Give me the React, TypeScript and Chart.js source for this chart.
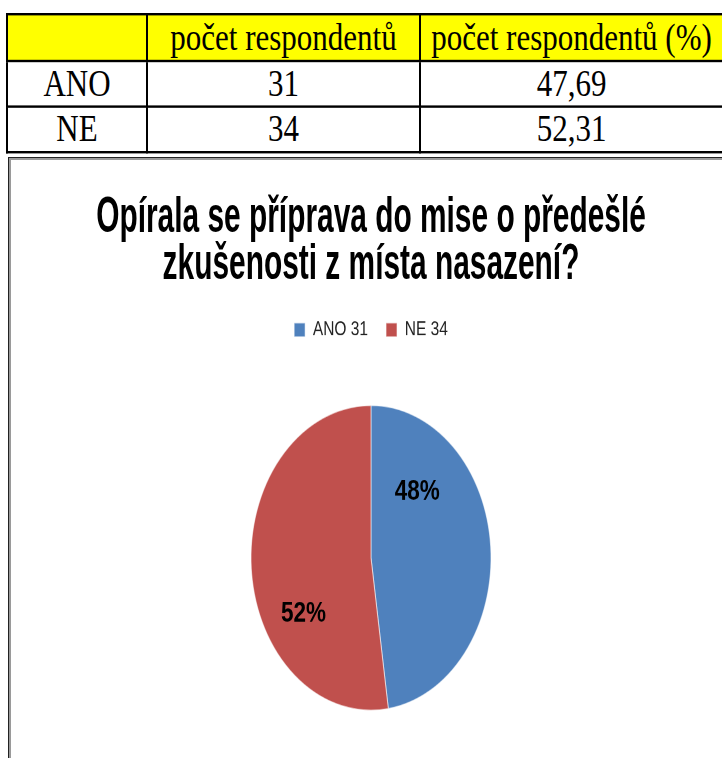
import React, { useEffect, useRef } from "react";
import { Chart, registerables } from "chart.js";

Chart.register(...registerables);

// ---- data ----
const categories = ["ANO", "NE"];
const counts = [31, 34];
const percentText = ["47,69", "52,31"];
const tableHeaders = ["", "počet respondentů", "počet respondentů (%)"];
const chartTitle = ["Opírala se příprava do mise o předešlé", "zkušenosti z místa nasazení?"];
const sliceColors = ["#4F81BD", "#C0504D"];

const SANS = "'Liberation Sans', Arial, sans-serif";
const STRETCH = 1.27;

const pctLabelPlugin = {
  id: "pctLabels",
  afterDatasetsDraw(chart: any) {
    const ctx = chart.ctx;
    const meta = chart.getDatasetMeta(0);
    const values: number[] = chart.data.datasets[0].data;
    const total = values.reduce((a, b) => a + b, 0);
    meta.data.forEach((arc: any, i: number) => {
      const { x, y, startAngle, endAngle, outerRadius } = arc.getProps(
        ["x", "y", "startAngle", "endAngle", "outerRadius"],
        true
      );
      const a = startAngle + (endAngle - startAngle) * 0.3;
      const r = outerRadius * 0.62;
      const px = x + Math.cos(a) * r - 12;
      const py = y + Math.sin(a) * r - 5.5;
      ctx.save();
      ctx.translate(px, py);
      ctx.scale(0.865, 1.1 / STRETCH);
      ctx.font = `bold 26px ${SANS}`;
      ctx.fillStyle = "#000";
      ctx.textAlign = "center";
      ctx.textBaseline = "middle";
      ctx.fillText(Math.round((values[i] / total) * 100) + "%", 0, 0);
      ctx.restore();
    });
  },
};

function PieChart() {
  const ref = useRef<HTMLCanvasElement>(null);
  useEffect(() => {
    if (!ref.current) return;
    const chart = new Chart(ref.current, {
      type: "pie",
      data: {
        labels: categories.map((c, i) => `${c} ${counts[i]}`),
        datasets: [
          {
            data: counts,
            backgroundColor: sliceColors,
            borderColor: "rgba(255,255,255,0.6)",
            borderWidth: 1,
            radius: 120,
          },
        ],
      },
      options: {
        responsive: false,
        animation: false,
        devicePixelRatio: 2,
        layout: { padding: { top: 108, left: 0, right: 0, bottom: 0 } },
        plugins: {
          title: { display: false },
          legend: {
            display: true,
            position: "top",
            labels: {
              color: "#222",
              font: { family: SANS, size: 15.5 },
              boxWidth: 11,
              boxHeight: 11,
              padding: 18,
            },
          },
          tooltip: { enabled: false },
        },
      },
      plugins: [pctLabelPlugin],
    });
    return () => chart.destroy();
  }, []);
  return (
    <canvas
      ref={ref}
      width={720}
      height={475}
      style={{
        position: "absolute",
        left: 2,
        top: 2,
        transform: `scaleY(${STRETCH})`,
        transformOrigin: "top left",
      }}
    />
  );
}

const cellBase: React.CSSProperties = {
  border: "2px solid #000",
  textAlign: "center",
  verticalAlign: "middle",
  padding: 0,
  whiteSpace: "nowrap",
};

export default function App() {
  return (
    <div
      style={{
        position: "fixed",
        left: 0,
        top: 0,
        width: 722,
        height: 758,
        overflow: "hidden",
        background: "#fff",
      }}
    >
      <table
        style={{
          position: "absolute",
          left: 6,
          top: 13,
          borderCollapse: "collapse",
          fontFamily: "'Liberation Serif', 'Times New Roman', serif",
          fontSize: 31,
          color: "#000",
          transform: "scaleY(1.2)",
          transformOrigin: "top left",
          tableLayout: "fixed",
          width: 716,
        }}
      >
        <colgroup>
          <col style={{ width: 140 }} />
          <col style={{ width: 273 }} />
          <col style={{ width: 303 }} />
        </colgroup>
        <tbody>
          <tr style={{ height: 39, background: "#FFFF00" }}>
            {tableHeaders.map((h, i) => (
              <td key={i} style={cellBase}>{h}</td>
            ))}
          </tr>
          {categories.map((c, i) => (
            <tr key={c} style={{ height: 38, background: "#fff" }}>
              <td style={cellBase}>{c}</td>
              <td style={cellBase}>{counts[i]}</td>
              <td style={cellBase}>{percentText[i]}</td>
            </tr>
          ))}
        </tbody>
      </table>
      <div
        style={{
          position: "absolute",
          left: 8,
          top: 157,
          width: 740,
          height: 640,
          border: "1px solid #222",
          boxShadow: "inset 2px 2px 0 #9a9a9a",
          background: "#fff",
        }}
      >
        <PieChart />
        <div
          style={{
            position: "absolute",
            left: -38,
            top: 33,
            width: 800,
            textAlign: "center",
            fontFamily: SANS,
            fontWeight: "bold",
            fontSize: 36,
            lineHeight: "33.6px",
            color: "#000",
            whiteSpace: "nowrap",
            transform: "scale(0.83, 1.4)",
            transformOrigin: "50% 0",
          }}
        >
          {chartTitle.map((t) => (
            <div key={t}>{t}</div>
          ))}
        </div>
      </div>
    </div>
  );
}
